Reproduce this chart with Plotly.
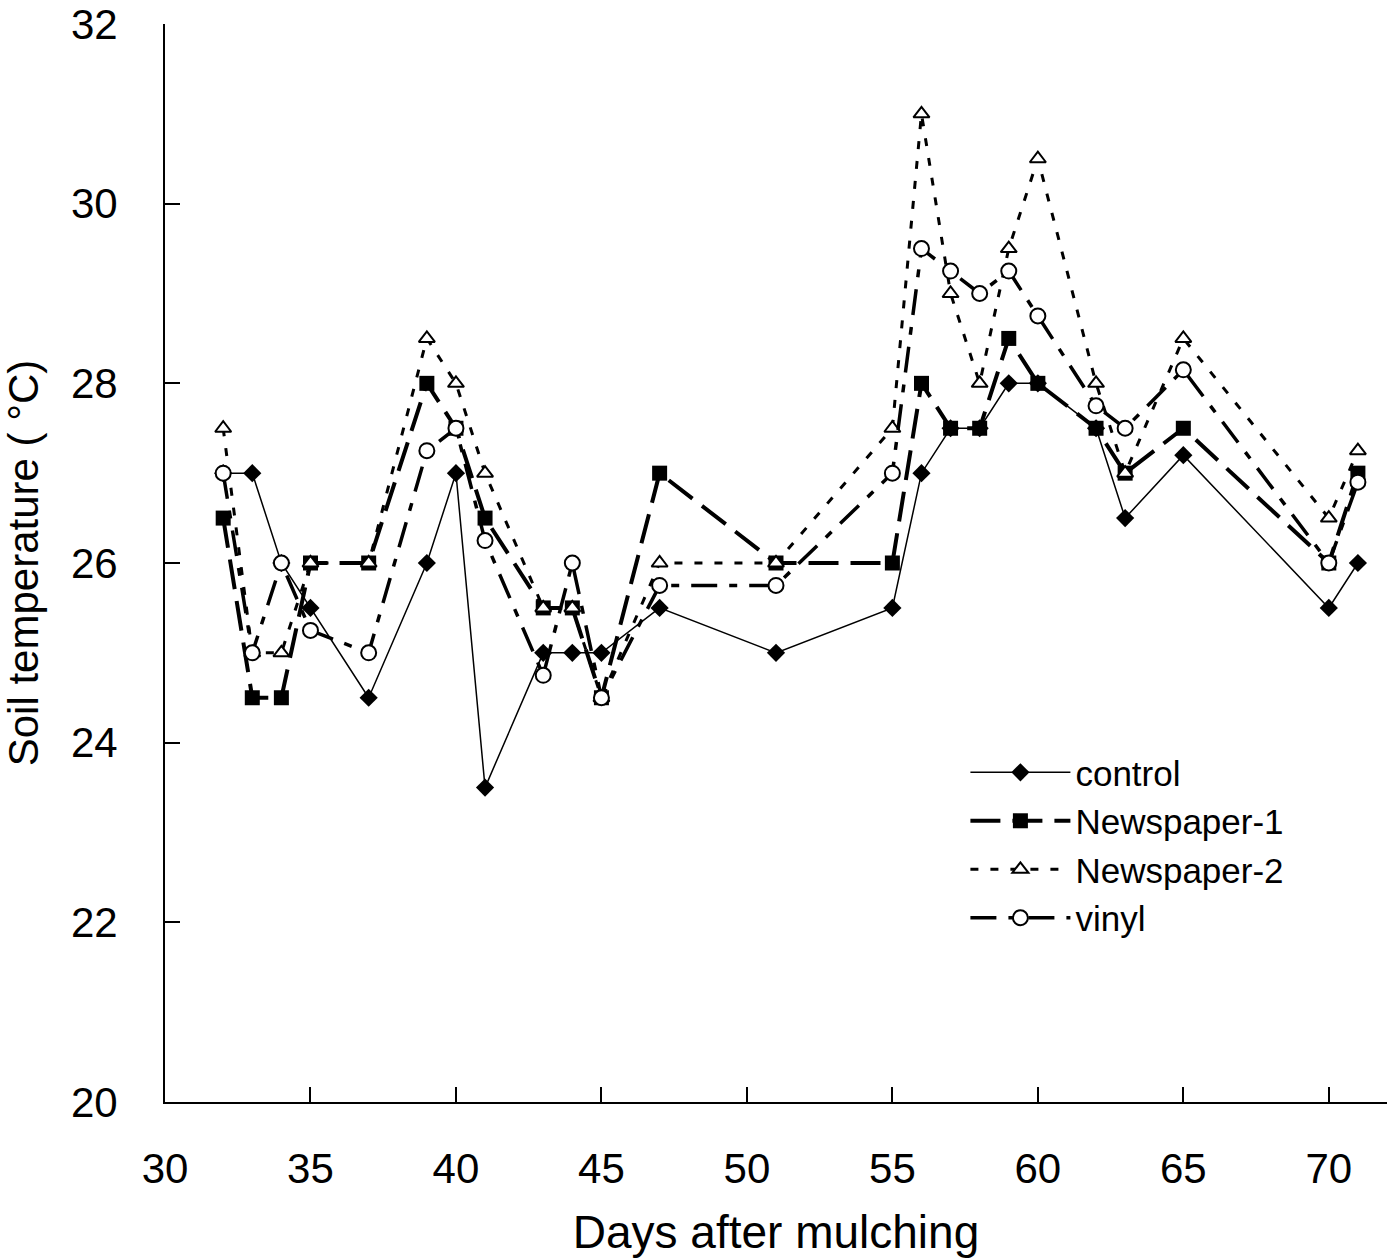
import plotly.graph_objects as go

days = [32, 33, 34, 35, 37, 39, 40, 41, 43, 44, 45, 47, 51, 55, 56, 57, 58, 59, 60, 62, 63, 65, 70, 71]
control = [27, 27, 26, 25.5, 24.5, 26, 27, 23.5, 25, 25, 25, 25.5, 25, 25.5, 27, 27.5, 27.5, 28, 28, 27.5, 26.5, 27.2, 25.5, 26]
newspaper1 = [26.5, 24.5, 24.5, 26, 26, 28, 27.5, 26.5, 25.5, 25.5, 24.5, 27, 26, 26, 28, 27.5, 27.5, 28.5, 28, 27.5, 27, 27.5, 26, 27]
newspaper2 = [27.5, 25, 25, 26, 26, 28.5, 28, 27, 25.5, 25.5, 24.5, 26, 26, 27.5, 31, 29, 28, 29.5, 30.5, 28, 27, 28.5, 26.5, 27.25]
vinyl = [27, 25, 26, 25.25, 25, 27.25, 27.5, 26.25, 24.75, 26, 24.5, 25.75, 25.75, 27, 29.5, 29.25, 29, 29.25, 28.75, 27.75, 27.5, 28.15, 26, 26.9]

x_ticks = [30, 35, 40, 45, 50, 55, 60, 65, 70]
y_ticks = [20, 22, 24, 26, 28, 30, 32]

FONT = "Liberation Sans, Arial, sans-serif"

fig = go.Figure()
fig.add_trace(go.Scatter(
    x=days, y=control, name="control", mode="lines+markers",
    line=dict(color="black", width=1.5),
    marker=dict(symbol="diamond", size=14, color="black")))
fig.add_trace(go.Scatter(
    x=days, y=newspaper1, name="Newspaper-1", mode="lines+markers",
    line=dict(color="black", width=4, dash="30px,12px"),
    marker=dict(symbol="square", size=15, color="black")))
fig.add_trace(go.Scatter(
    x=days, y=newspaper2, name="Newspaper-2", mode="lines+markers",
    line=dict(color="black", width=3, dash="8px,12px"),
    marker=dict(symbol="triangle-up", size=14, color="white",
                line=dict(color="black", width=2))))
fig.add_trace(go.Scatter(
    x=days, y=vinyl, name="vinyl", mode="lines+markers",
    line=dict(color="black", width=3.5, dash="26px,12px,8px,12px"),
    marker=dict(symbol="circle", size=15, color="white",
                line=dict(color="black", width=2))))

fig.update_layout(
    width=1388, height=1258,
    margin=dict(l=165, r=1, t=24, b=156, autoexpand=False),
    paper_bgcolor="white", plot_bgcolor="white",
    font=dict(family=FONT, size=42, color="black"),
    showlegend=True,
    legend=dict(x=0.655, y=0.333, xanchor="left", yanchor="top",
                bgcolor="rgba(0,0,0,0)", font=dict(size=35, family=FONT),
                itemwidth=100, tracegroupgap=0),
)
fig.update_xaxes(
    range=[30, 72], tickvals=x_ticks, ticktext=[str(v) for v in x_ticks],
    showline=True, linecolor="black", linewidth=2,
    ticks="inside", ticklen=15, tickwidth=2, tickcolor="black",
    showgrid=False, zeroline=False, ticklabeloverflow="allow",
    ticklabelstandoff=29, automargin=False,
    tickfont=dict(size=42, family=FONT),
    title=dict(text="Days after mulching", font=dict(size=46, family=FONT), standoff=26),
)
fig.update_yaxes(
    range=[20, 32.0001], tickvals=y_ticks, ticktext=[str(v) for v in y_ticks],
    showline=True, linecolor="black", linewidth=2,
    ticks="inside", ticklen=15, tickwidth=2, tickcolor="black",
    showgrid=False, zeroline=False, ticklabeloverflow="allow",
    ticklabelstandoff=37, automargin=False,
    tickfont=dict(size=42, family=FONT),
    title=dict(text="Soil temperature ( °C)", font=dict(size=42, family=FONT), standoff=30),
)

fig.write_html("out.html")
